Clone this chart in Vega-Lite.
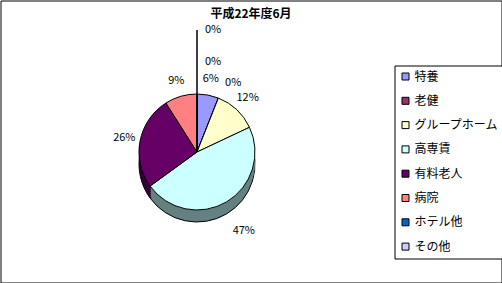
{
  "$schema": "https://vega.github.io/schema/vega-lite/v6.json",
  "width": 501,
  "height": 282,
  "padding": 0.5,
  "autosize": {"type": "none"},
  "background": "white",
  "title": {"text": "平成22年度6月", "font": "Noto Sans CJK JP", "fontSize": 12, "fontWeight": "bold", "color": "black", "offset": -20},
  "data": {"values": [
    {"cat": "特養", "v": 0.06, "i": 1},
    {"cat": "老健", "v": 0.0, "i": 2},
    {"cat": "グループホーム", "v": 0.12, "i": 3},
    {"cat": "高専賃", "v": 0.47, "i": 4},
    {"cat": "有料老人", "v": 0.26, "i": 5},
    {"cat": "病院", "v": 0.09, "i": 6},
    {"cat": "ホテル他", "v": 0.0, "i": 7},
    {"cat": "その他", "v": 0.0, "i": 8}
  ]},
  "layer": [
    {"mark": {"type": "point", "opacity": 0},
     "encoding": {"x": {"field": "i", "type": "quantitative", "axis": null}, "y": {"field": "v", "type": "quantitative", "axis": null}}},
    {"layer": [
      {"mark": {"type": "arc", "radius": 58, "xOffset": -54, "yOffset": 22.5, "stroke": "black", "strokeWidth": 1},
       "encoding": {"theta": {"field": "v", "type": "quantitative", "stack": true}, "order": {"field": "i", "type": "quantitative"},
         "color": {"field": "cat", "type": "nominal", "legend": null, "scale": {"domain": ["特養","老健","グループホーム","高専賃","有料老人","病院","ホテル他","その他"], "range": ["#4D4D80","#4D1A33","#808066","#668080","#330033","#804040","#003366","#666680"]}}}},
      {"mark": {"type": "arc", "radius": 58, "xOffset": -54, "yOffset": 20.5},
       "encoding": {"theta": {"field": "v", "type": "quantitative", "stack": true}, "order": {"field": "i", "type": "quantitative"},
         "color": {"field": "cat", "type": "nominal", "legend": null}}},
      {"mark": {"type": "arc", "radius": 58, "xOffset": -54, "yOffset": 18.5},
       "encoding": {"theta": {"field": "v", "type": "quantitative", "stack": true}, "order": {"field": "i", "type": "quantitative"},
         "color": {"field": "cat", "type": "nominal", "legend": null}}},
      {"mark": {"type": "arc", "radius": 58, "xOffset": -54, "yOffset": 16.5},
       "encoding": {"theta": {"field": "v", "type": "quantitative", "stack": true}, "order": {"field": "i", "type": "quantitative"},
         "color": {"field": "cat", "type": "nominal", "legend": null}}},
      {"mark": {"type": "arc", "radius": 58, "xOffset": -54, "yOffset": 14.5},
       "encoding": {"theta": {"field": "v", "type": "quantitative", "stack": true}, "order": {"field": "i", "type": "quantitative"},
         "color": {"field": "cat", "type": "nominal", "legend": null}}},
      {"mark": {"type": "arc", "radius": 58, "xOffset": -54, "yOffset": 12.5},
       "encoding": {"theta": {"field": "v", "type": "quantitative", "stack": true}, "order": {"field": "i", "type": "quantitative"},
         "color": {"field": "cat", "type": "nominal", "legend": null}}}
    ]},
    {"layer": [
      {"mark": {"type": "arc", "radius": 58, "xOffset": -54, "yOffset": 10.5, "stroke": "black", "strokeWidth": 1},
       "encoding": {"theta": {"field": "v", "type": "quantitative", "stack": true}, "order": {"field": "i", "type": "quantitative"},
         "color": {"field": "cat", "type": "nominal",
           "scale": {"domain": ["特養","老健","グループホーム","高専賃","有料老人","病院","ホテル他","その他"], "range": ["#9999FF","#993366","#FFFFCC","#CCFFFF","#660066","#FF8080","#0066CC","#CCCCFF"]},
           "legend": {"title": null, "orient": "none", "legendX": 394, "legendY": 65, "symbolType": "square", "symbolSize": 49, "symbolStrokeColor": "black", "symbolStrokeWidth": 1, "labelFont": "Noto Sans CJK JP", "labelFontSize": 12, "labelColor": "black", "strokeColor": "black", "fillColor": "white", "padding": 5, "rowPadding": 12.3, "labelOffset": 3}}}},
      {"transform": [{"filter": "datum.cat === 'その他'"}],
       "mark": {"type": "arc", "radius": 122, "radius2": 58, "xOffset": -54, "yOffset": 10.5, "fill": "transparent", "stroke": "black", "strokeWidth": 1},
       "encoding": {"theta": {"field": "v", "type": "quantitative", "stack": true}}},
      {"mark": {"type": "text", "radius": 74, "xOffset": -54, "yOffset": 10.5, "font": "Noto Sans CJK JP", "fontSize": 11, "color": "black"},
       "encoding": {"theta": {"field": "v", "type": "quantitative", "stack": true}, "order": {"field": "i", "type": "quantitative"},
         "text": {"condition": {"test": "datum.cat === '老健' || datum.cat === '高専賃' || datum.cat === 'ホテル他' || datum.cat === 'その他'", "value": ""}, "field": "v", "type": "quantitative", "format": ".0%"}}},
      {"mark": {"type": "text", "radius": 74, "dx": 9, "xOffset": -54, "yOffset": 10.5, "font": "Noto Sans CJK JP", "fontSize": 11, "color": "black"},
       "encoding": {"theta": {"field": "v", "type": "quantitative", "stack": true}, "order": {"field": "i", "type": "quantitative"},
         "text": {"condition": {"test": "datum.cat !== '老健'", "value": ""}, "field": "v", "type": "quantitative", "format": ".0%"}}},
      {"mark": {"type": "text", "radius": 92, "xOffset": -54, "yOffset": 10.5, "font": "Noto Sans CJK JP", "fontSize": 11, "color": "black"},
       "encoding": {"theta": {"field": "v", "type": "quantitative", "stack": true}, "order": {"field": "i", "type": "quantitative"},
         "text": {"condition": {"test": "datum.cat !== '高専賃'", "value": ""}, "field": "v", "type": "quantitative", "format": ".0%"}}},
      {"transform": [{"filter": "datum.cat === 'ホテル他'"}],
       "mark": {"type": "text", "radius": 90, "align": "left", "dx": 8, "xOffset": -54, "yOffset": 10.5, "font": "Noto Sans CJK JP", "fontSize": 11, "color": "black"},
       "encoding": {"theta": {"field": "v", "type": "quantitative", "stack": true},
         "text": {"field": "v", "type": "quantitative", "format": ".0%"}}},
      {"transform": [{"filter": "datum.cat === 'その他'"}],
       "mark": {"type": "text", "radius": 122, "align": "left", "dx": 8, "xOffset": -54, "yOffset": 10.5, "font": "Noto Sans CJK JP", "fontSize": 11, "color": "black"},
       "encoding": {"theta": {"field": "v", "type": "quantitative", "stack": true},
         "text": {"field": "v", "type": "quantitative", "format": ".0%"}}}
    ]}
  ],
  "resolve": {"scale": {"color": "independent"}},
  "config": {"view": {"stroke": "black", "strokeWidth": 1}}
}
